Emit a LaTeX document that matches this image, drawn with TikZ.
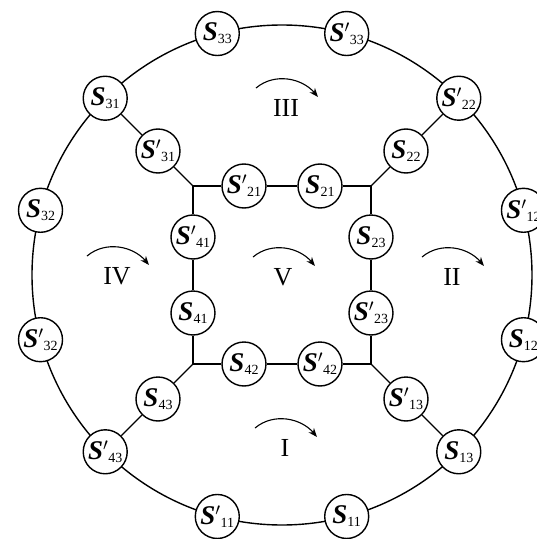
\documentclass[tikz,border=0pt]{standalone}
\usepackage{fontspec}
\setmainfont{Liberation Serif}
\usetikzlibrary{arrows.meta}
\newcommand{\sw}[2]{\textbf{\textit{S}}#1\raisebox{-3pt}{\fontsize{14}{14}\selectfont #2}}
\begin{document}
\begin{tikzpicture}[x=1pt,y=1pt,line width=1.4pt,
  sw/.style={circle,draw,fill=white,minimum size=44pt,inner sep=0pt,font=\fontsize{27}{27}\selectfont},
  zone/.style={font=\fontsize{26}{26}\selectfont},
  turn/.style={-{Stealth[length=9pt,width=7pt]},line width=1.1pt}]
\clip (-282,-264) rectangle (255,275);
\coordinate (c) at (0,0);
\draw (c) circle (250);
\coordinate (tl) at (-89,89);
\coordinate (tr) at (89,89);
\coordinate (bl) at (-89,-89);
\coordinate (br) at (89,-89);
\node[sw] (S33) at (105:250) {\sw{}{33}};
\node[sw] (Sp33) at (75:250) {\sw{$'$}{33}};
\node[sw] (Sp22) at (45:250) {\sw{$'$}{22}};
\node[sw] (Sp12) at (15:250) {\sw{$'$}{12}};
\node[sw] (S12) at (-15:250) {\sw{}{12}};
\node[sw] (S13) at (-45:250) {\sw{}{13}};
\node[sw] (S11) at (-75:250) {\sw{}{11}};
\node[sw] (Sp11) at (-105:250) {\sw{$'$}{11}};
\node[sw] (Sp43) at (-135:250) {\sw{$'$}{43}};
\node[sw] (Sp32) at (-165:250) {\sw{$'$}{32}};
\node[sw] (S32) at (165:250) {\sw{}{32}};
\node[sw] (S31) at (135:250) {\sw{}{31}};
\node[sw] (Sp31) at (-124,124) {\sw{$'$}{31}};
\node[sw] (S22) at (124,124) {\sw{}{22}};
\node[sw] (S43) at (-124,-124) {\sw{}{43}};
\node[sw] (Sp13) at (124,-124) {\sw{$'$}{13}};
\node[sw] (Sp21) at (-38,89) {\sw{$'$}{21}};
\node[sw] (S21) at (38,89) {\sw{}{21}};
\node[sw] (Sp41) at (-89,38) {\sw{$'$}{41}};
\node[sw] (S41) at (-89,-38) {\sw{}{41}};
\node[sw] (S23) at (89,38) {\sw{}{23}};
\node[sw] (Sp23) at (89,-38) {\sw{$'$}{23}};
\node[sw] (S42) at (-38,-89) {\sw{}{42}};
\node[sw] (Sp42) at (38,-89) {\sw{$'$}{42}};
\draw (tl) -- (Sp21) -- (S21) -- (tr) -- (S23) -- (Sp23) -- (br) -- (Sp42) -- (S42) -- (bl) -- (S41) -- (Sp41) -- (tl);
\draw (tl) -- (Sp31) -- (S31);
\draw (tr) -- (S22) -- (Sp22);
\draw (bl) -- (S43) -- (Sp43);
\draw (br) -- (Sp13) -- (S13);
\node[zone] (z3) at (4,167) {III};
\node[zone] (z4) at (-165,-1) {IV};
\node[zone] (z5) at (1,-2) {V};
\node[zone] (z2) at (170,-2) {II};
\node[zone] (z1) at (3,-173) {I};
\foreach \z in {z1,z2,z3,z4,z5}
  \draw[turn] ([shift={(-30,20)}]\z.center) to[out=40,in=130] ([shift={(32,11)}]\z.center);
\end{tikzpicture}
\end{document}
